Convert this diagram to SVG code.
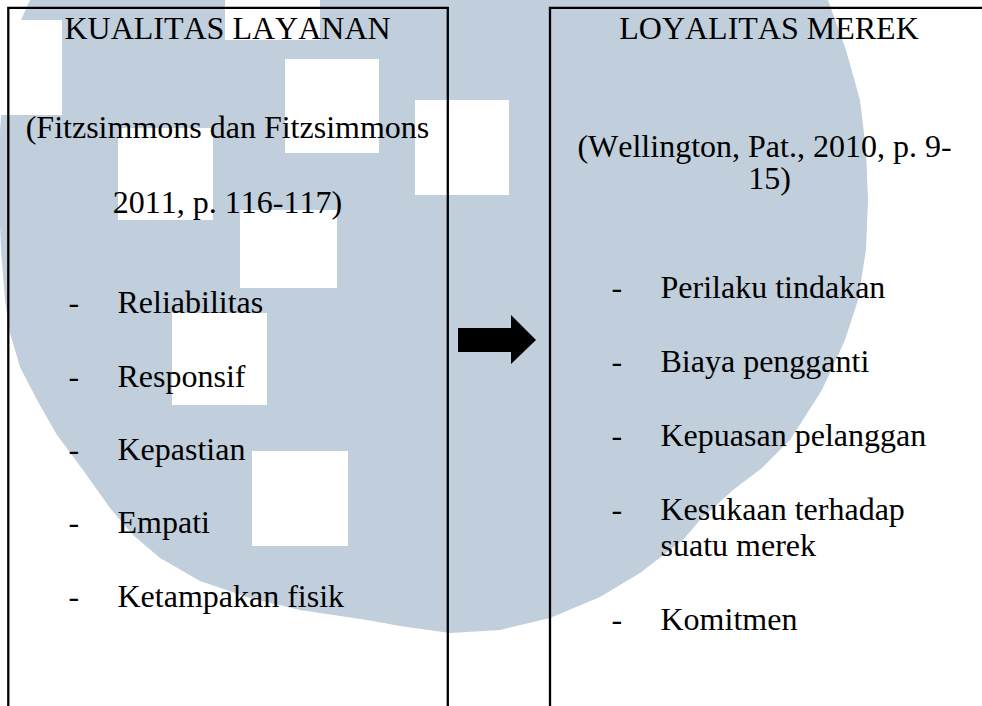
<svg xmlns="http://www.w3.org/2000/svg" width="982" height="706" viewBox="0 0 982 706">
  <style>
    .wm { fill: #C1CFDC; }
    .sq { fill: #FFFFFF; }
    .box { fill: none; stroke: #000000; stroke-width: 2.3; }
    .t { font-family: "Liberation Serif", "Times New Roman", serif; font-size: 32px; fill: #000000; font-kerning: none; }
    .c { text-anchor: middle; }
  </style>
  <rect x="0" y="0" width="982" height="706" fill="#FFFFFF"/>
  <g id="watermark">
    <path class="wm" d="M 30,-10 L 822,-10 L 828,0 L 846,50 L 860,100 L 866,150 L 868,200 L 866,250 L 858,300 L 845,340 L 822,390 L 790,440 L 762,468 L 733,490 L 700,520 L 683,540 L 640,573 L 600,597 L 550,618 L 500,630 L 450,633 L 400,626 L 367,620 L 300,610 L 250,598 L 200,581 L 160,558 L 133,535 L 110,508 L 83,470 L 57,435 L 37,400 L 20,367 L 10,333 L 5,300 L 1,250 L -1,200 L 0,130 L 3,90 L 12,40 L 30,0 Z"/>
    <rect class="sq" x="-33" y="20" width="95" height="95"/>
    <rect class="sq" x="225" y="-55" width="95" height="95"/>
    <rect class="sq" x="285" y="59" width="94" height="94"/>
    <rect class="sq" x="415" y="100" width="94" height="95"/>
    <rect class="sq" x="118" y="128" width="95" height="92"/>
    <rect class="sq" x="240" y="210" width="97" height="78"/>
    <rect class="sq" x="172" y="313" width="95" height="92"/>
    <rect class="sq" x="252" y="451" width="96" height="95"/>
  </g>
  <g id="node-kualitas-layanan">
    <path class="box" d="M 8.3,710 V 7.8 H 447.8 V 710"/>
    <text class="t c" x="227.5" y="39.3">KUALITAS LAYANAN</text>
    <text class="t c" x="227.5" y="138.3">(Fitzsimmons dan Fitzsimmons</text>
    <text class="t c" x="227.5" y="213.3">2011, p. 116-117)</text>
    <text class="t" x="68.5" y="313.3">-</text>
    <text class="t" x="117.5" y="313.3">Reliabilitas</text>
    <text class="t" x="68.5" y="386.6">-</text>
    <text class="t" x="117.5" y="386.6">Responsif</text>
    <text class="t" x="68.5" y="460">-</text>
    <text class="t" x="117.5" y="460">Kepastian</text>
    <text class="t" x="68.5" y="533.3">-</text>
    <text class="t" x="117.5" y="533.3">Empati</text>
    <text class="t" x="68.5" y="606.6">-</text>
    <text class="t" x="117.5" y="606.6">Ketampakan fisik</text>
  </g>
  <g id="node-loyalitas-merek">
    <path class="box" d="M 550,710 V 7.8 H 990"/>
    <text class="t c" x="769" y="39.3">LOYALITAS MEREK</text>
    <text class="t c" x="764.5" y="156.7">(Wellington, Pat., 2010, p. 9-</text>
    <text class="t c" x="769.5" y="189.3">15)</text>
    <text class="t" x="611.5" y="297.7">-</text>
    <text class="t" x="660.5" y="297.7">Perilaku tindakan</text>
    <text class="t" x="611.5" y="371.5">-</text>
    <text class="t" x="660.5" y="371.5">Biaya pengganti</text>
    <text class="t" x="611.5" y="446">-</text>
    <text class="t" x="660.5" y="446">Kepuasan pelanggan</text>
    <text class="t" x="611.5" y="520">-</text>
    <text class="t" x="660.5" y="520">Kesukaan terhadap</text>
    <text class="t" x="660.5" y="556">suatu merek</text>
    <text class="t" x="611.5" y="630">-</text>
    <text class="t" x="660.5" y="630">Komitmen</text>
  </g>
  <g id="connectors">
    <polygon points="458,328 511,328 511,315 536,340 511,364 511,352 458,352" fill="#000000"/>
  </g>
</svg>
